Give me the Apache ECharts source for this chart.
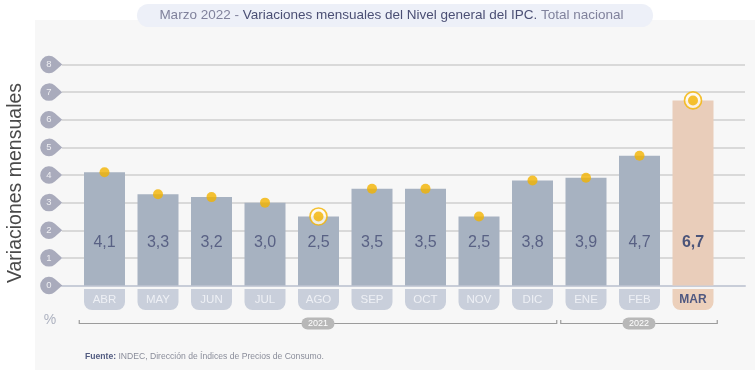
<!DOCTYPE html>
<html>
<head>
<meta charset="utf-8">
<script src="https://cdn.jsdelivr.net/npm/echarts@6/dist/echarts.min.js"></script>
<style>html,body{margin:0;padding:0;background:#fff}#c{width:755px;height:370px}</style>
</head>
<body>
<div id="c"></div>
<script>
const months = ['ABR','MAY','JUN','JUL','AGO','SEP','OCT','NOV','DIC','ENE','FEB','MAR'];
const values = [4.1, 3.3, 3.2, 3.0, 2.5, 3.5, 3.5, 2.5, 3.8, 3.9, 4.7, 6.7];
const highlight = ['AGO', 'MAR'];
const current = 'MAR';
const yTicks = [0, 1, 2, 3, 4, 5, 6, 7, 8];
const years = ['2021', '2022'];
const yearFirst = ['ABR', 'ENE'];
const yearLast = ['DIC', 'MAR'];

const FONT = '"Liberation Sans", Arial, Helvetica, sans-serif';
const chart = echarts.init(document.getElementById('c'), null, {renderer: 'canvas'});

const TOP = 64.5, BOTTOM = 370 - 285.5;
const tagPath = 'path://M13.33,2.04 A8,8 0 1,0 13.33,13.96 L20,8 Z';

const staticGraphics = [
  {type: 'rect', z: -10, silent: true, shape: {x: 35, y: 20, width: 720, height: 350}, style: {fill: '#f7f7f7'}},
  {type: 'rect', z: 5, silent: true, shape: {x: 137, y: 4, width: 516, height: 23, r: 11.5}, style: {fill: '#edf0f8'}},
  {type: 'text', z: 6, silent: true, style: {
    x: 391.5, y: 15.5, align: 'center', verticalAlign: 'middle',
    text: '{a|Marzo 2022 - }{b|Variaciones mensuales del Nivel general del IPC.}{a| Total nacional}',
    rich: {
      a: {fontFamily: FONT, fontSize: 13.5, fill: '#80829c', color: '#80829c'},
      b: {fontFamily: FONT, fontSize: 13.5, fill: '#4b4f74', color: '#4b4f74'}
    }
  }},
  {type: 'text', z: 6, silent: true, rotation: Math.PI / 2, x: 16, y: 183, style: {
    text: 'Variaciones mensuales', align: 'center', verticalAlign: 'middle',
    fontFamily: FONT, fontSize: 19.5, fill: '#4a4a4a'
  }},
  {type: 'text', z: 6, silent: true, style: {
    x: 50, y: 320, text: '%', align: 'center', verticalAlign: 'middle',
    fontFamily: FONT, fontSize: 14, fill: '#adb2c0'
  }},
  {type: 'text', z: 6, silent: true, style: {
    x: 85, y: 357, verticalAlign: 'middle',
    text: '{f|Fuente:}{r| INDEC, Dirección de Índices de Precios de Consumo.}',
    rich: {
      f: {fontFamily: FONT, fontSize: 8.6, fontWeight: 'bold', fill: '#525b80', color: '#525b80'},
      r: {fontFamily: FONT, fontSize: 8.6, fill: '#8a8d9a', color: '#8a8d9a'}
    }
  }}
];

const option = {
  animation: false,
  backgroundColor: '#ffffff',
  grid: [
    {left: 77.75, right: 35.25, top: TOP, bottom: BOTTOM},
    {left: 62, right: 10, top: TOP, bottom: BOTTOM}
  ],
  xAxis: [
    {
      type: 'category', gridIndex: 0, data: months,
      axisLine: {show: false}, axisTick: {show: false},
      axisLabel: {
        interval: 0, hideOverlap: false,
        margin: 3.5,
        formatter: v => v === current ? '{h|' + v + '}' : '{n|' + v + '}',
        rich: {
          n: {width: 41, height: 21, lineHeight: 21, align: 'center', backgroundColor: '#c9cfdb',
              color: '#eef0f5', borderRadius: [0, 0, 8, 8], fontSize: 11.5, fontFamily: FONT},
          h: {width: 41, height: 21, lineHeight: 21, align: 'center', backgroundColor: '#ecd0bb',
              color: '#4f5880', borderRadius: [0, 0, 8, 8], fontSize: 12, fontWeight: 'bold', fontFamily: FONT}
        }
      }
    },
    {
      type: 'value', gridIndex: 1, min: 0, max: 1,
      axisLine: {show: true, onZero: false, lineStyle: {color: '#c8cdd8', width: 2}},
      axisTick: {show: false}, axisLabel: {show: false}, splitLine: {show: false}
    }
  ],
  yAxis: [
    {type: 'value', gridIndex: 0, min: 0, max: 8, interval: 1, show: false},
    {
      type: 'value', gridIndex: 1, min: 0, max: 8, interval: 1,
      axisLine: {show: false}, axisTick: {show: false}, axisLabel: {show: false},
      splitLine: {show: true, lineStyle: {color: '#cfcfcf', width: 1.5}}
    }
  ],
  series: [
    {
      type: 'bar', xAxisIndex: 0, yAxisIndex: 0, barWidth: 41, z: 3,
      data: values.map((v, i) => months[i] === current
        ? {value: v, itemStyle: {color: '#e9cdba'}, label: {fontWeight: 'bold', color: '#4b5479'}}
        : {value: v}),
      itemStyle: {color: '#a7b2c1'},
      label: {
        show: true, position: 'insideBottom', distance: 35,
        formatter: p => p.value.toFixed(1).replace('.', ','),
        fontFamily: FONT, fontSize: 16, color: '#596184'
      }
    },
    {
      type: 'scatter', xAxisIndex: 0, yAxisIndex: 0, z: 5,
      symbol: 'circle', symbolSize: 17,
      data: values.map((v, i) => highlight.includes(months[i]) ? v : '-'),
      itemStyle: {color: '#fffaf0', borderColor: '#f2b300', borderWidth: 1.6}
    },
    {
      type: 'scatter', xAxisIndex: 0, yAxisIndex: 0, z: 6,
      symbol: 'circle', symbolSize: 10,
      data: values,
      itemStyle: {color: '#f2b300'}
    },
    {
      type: 'scatter', xAxisIndex: 1, yAxisIndex: 1, z: 6, clip: false,
      symbol: tagPath, symbolSize: [22, 17.5], symbolOffset: [-10.8, 0],
      data: yTicks.map(t => [0, t]),
      itemStyle: {color: '#9597ad'},
      label: {
        show: true, position: 'inside', offset: [-2.2, 0],
        formatter: p => String(p.value[1]),
        color: '#ffffff', fontSize: 9.5, fontFamily: FONT
      }
    }
  ],
  graphic: staticGraphics
};

chart.setOption(option);

// Year brackets, positioned through the category axis
const c0 = chart.convertToPixel({gridIndex: 0}, [0, 0])[0];
const c1 = chart.convertToPixel({gridIndex: 0}, [1, 0])[0];
const bw = c1 - c0;
const bracketGraphics = [];
years.forEach((yr, k) => {
  const i1 = months.indexOf(yearFirst[k]);
  const i2 = months.indexOf(yearLast[k]);
  const x1 = chart.convertToPixel({gridIndex: 0}, [i1, 0])[0] - bw / 2 + 1.5;
  const x2 = chart.convertToPixel({gridIndex: 0}, [i2, 0])[0] + bw / 2 - 2.5;
  const yL = 323.5;
  bracketGraphics.push({
    type: 'polyline', z: 6, silent: true,
    shape: {points: [[x1, yL - 3.5], [x1, yL], [x2, yL], [x2, yL - 3.5]]},
    style: {stroke: '#9c9c9c', lineWidth: 1.2, fill: null}
  });
  const mid = (x1 + x2) / 2;
  bracketGraphics.push({
    type: 'rect', z: 7, silent: true,
    shape: {x: mid - 16.5, y: yL - 6, width: 33, height: 12, r: 6},
    style: {fill: '#b8b8b8'}
  });
  bracketGraphics.push({
    type: 'text', z: 8, silent: true,
    style: {x: mid, y: yL, text: yr, align: 'center', verticalAlign: 'middle',
            fontFamily: FONT, fontSize: 9, fill: '#ffffff'}
  });
});

option.graphic = staticGraphics.concat(bracketGraphics);
chart.setOption(option, true);
</script>
</body>
</html>
